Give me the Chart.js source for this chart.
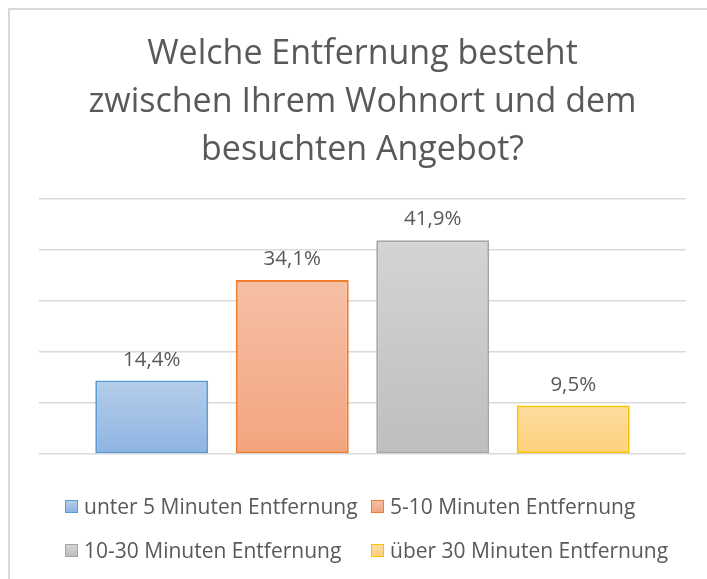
<!DOCTYPE html>
<html>
<head>
<meta charset="utf-8">
<script src="https://cdn.jsdelivr.net/npm/chart.js@4"></script>
<style>
  html, body { margin: 0; padding: 0; background: #fff; }
  #wrap { position: relative; width: 707px; height: 579px; overflow: hidden; }
  #frame { position: absolute; left: 8px; top: 8px; width: 800px; height: 700px;
           border-left: 2px solid #d9d9d9; border-top: 2px solid #d9d9d9; }
  canvas { position: absolute; left: 0; top: 0; }
  .legend-row { position: absolute; left: 0; height: 24px; font-family: "Open Sans", sans-serif;
                font-size: 21px; color: #595959; white-space: nowrap; }
  .legend-item { position: absolute; top: 0; display: flex; align-items: center; height: 24px; }
  .legend-box { width: 11px; height: 11px; border: 1.5px solid; margin-right: 6px; }
</style>
</head>
<body>
<div id="wrap">
  <div id="frame"></div>
  <canvas id="chart" width="707" height="579"></canvas>
  <div id="legend"></div>
</div>
<script>
// ===== DATA =====
const seriesLabels = [
  'unter 5 Minuten Entfernung',
  '5-10 Minuten Entfernung',
  '10-30 Minuten Entfernung',
  'über 30 Minuten Entfernung'
];
const seriesValues = [14.4, 34.1, 41.9, 9.5];
const titleLines = ['Welche Entfernung besteht', 'zwischen Ihrem Wohnort und dem', 'besuchten Angebot?'];
const yTicks = [0, 10, 20, 30, 40, 50];

// gradient top / bottom / border per series
const SERIES_COLORS = [
  { top: '#b4cdea', bottom: '#8fb4e2', border: '#5b9bd5' },
  { top: '#f6c0a6', bottom: '#f4a47f', border: '#ed7d31' },
  { top: '#d4d4d4', bottom: '#bebebe', border: '#a5a5a5' },
  { top: '#fedda0', bottom: '#fdd17c', border: '#ffc000' }
];

const fmt = v => v.toFixed(1).replace('.', ',') + '%';

function barGradient(ctx, i) {
  const chart = ctx.chart;
  const c = SERIES_COLORS[i];
  if (!chart.chartArea || !chart.scales.y) return c.bottom;
  const y = chart.scales.y;
  const top = y.getPixelForValue(seriesValues[i]);
  const base = y.getPixelForValue(0);
  const g = chart.ctx.createLinearGradient(0, top, 0, base);
  g.addColorStop(0, c.top);
  g.addColorStop(1, c.bottom);
  return g;
}

const valueLabels = {
  id: 'valueLabels',
  afterDatasetsDraw(chart) {
    const ctx = chart.ctx;
    ctx.save();
    ctx.font = '20.5px "Open Sans", sans-serif';
    ctx.fillStyle = '#595959';
    ctx.textAlign = 'center';
    ctx.textBaseline = 'alphabetic';
    chart.data.datasets.forEach((ds, i) => {
      const bar = chart.getDatasetMeta(i).data[0];
      if (!bar) return;
      ctx.fillText(fmt(ds.data[0]), bar.x, bar.y - 15);
    });
    ctx.restore();
  }
};

const chart = new Chart(document.getElementById('chart'), {
  type: 'bar',
  data: {
    labels: [''],
    datasets: seriesLabels.map((label, i) => ({
      label,
      data: [seriesValues[i]],
      backgroundColor: ctx => barGradient(ctx, i),
      borderColor: SERIES_COLORS[i].border,
      borderWidth: 2,
      borderSkipped: false,
      categoryPercentage: 0.8686,
      barPercentage: 0.804
    }))
  },
  options: {
    responsive: false,
    animation: false,
    layout: { padding: { left: 39, right: 21, top: 0, bottom: 125 } },
    plugins: {
      legend: { display: false },
      tooltip: { enabled: false },
      title: {
        display: true,
        text: titleLines,
        color: '#595959',
        font: { family: 'Open Sans', size: 34, weight: 'normal', lineHeight: 1.4 },
        padding: { top: 31, bottom: 25 }
      }
    },
    scales: {
      x: { display: false },
      y: {
        min: yTicks[0],
        max: yTicks[yTicks.length - 1],
        afterBuildTicks: axis => { axis.ticks = yTicks.map(v => ({ value: v })); },
        ticks: { display: false },
        border: { display: false },
        grid: { color: '#d9d9d9', lineWidth: 1.5, drawTicks: false }
      }
    }
  },
  plugins: [valueLabels]
});

// ===== HTML LEGEND =====
const legendRows = [
  { top: 494, items: [{ i: 0, x: 65 }, { i: 1, x: 371 }] },
  { top: 538, items: [{ i: 2, x: 65 }, { i: 3, x: 371 }] }
];
document.getElementById('legend').innerHTML = legendRows.map(r =>
  `<div class="legend-row" style="top:${r.top}px">` +
  r.items.map(it => {
    const c = SERIES_COLORS[it.i];
    return `<div class="legend-item" style="left:${it.x}px">
      <div class="legend-box" style="border-color:${c.border};background:linear-gradient(${c.top},${c.bottom})"></div>
      <span>${chart.data.datasets[it.i].label}</span>
    </div>`;
  }).join('') + '</div>'
).join('');
</script>
</body>
</html>
